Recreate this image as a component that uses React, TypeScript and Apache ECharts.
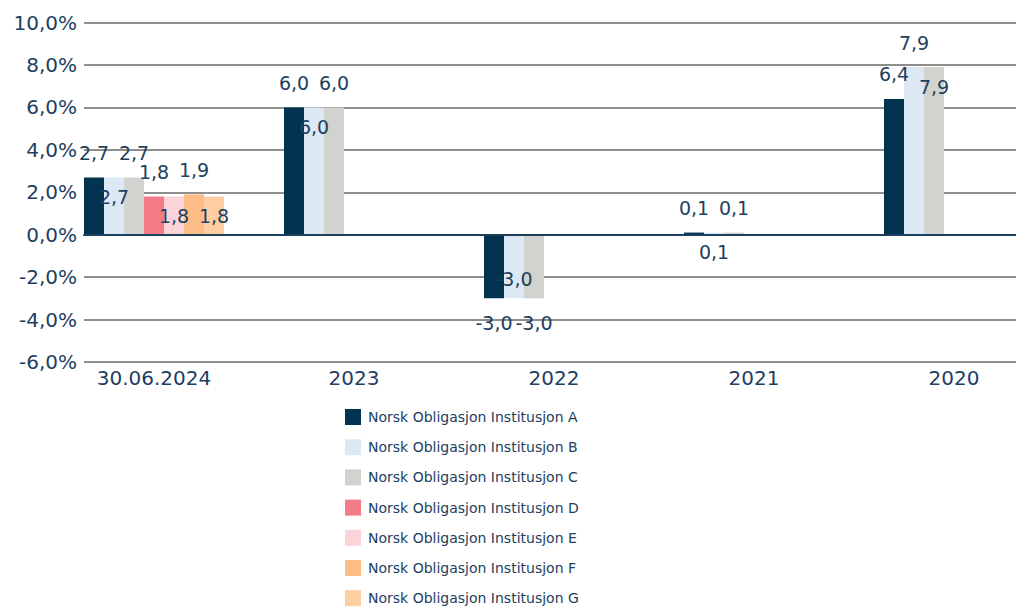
import React, { useEffect, useRef } from "react";
import * as echarts from "echarts";

const categories = ["30.06.2024", "2023", "2022", "2021", "2020"];
const seriesNames = [
  "Norsk Obligasjon Institusjon A",
  "Norsk Obligasjon Institusjon B",
  "Norsk Obligasjon Institusjon C",
  "Norsk Obligasjon Institusjon D",
  "Norsk Obligasjon Institusjon E",
  "Norsk Obligasjon Institusjon F",
  "Norsk Obligasjon Institusjon G",
];
const valuesA = [2.7, 6.0, -3.0, 0.1, 6.4];
const valuesB = [2.7, 6.0, -3.0, 0.1, 7.9];
const valuesC = [2.7, 6.0, -3.0, 0.1, 7.9];
const valuesD = [1.8, null, null, null, null];
const valuesE = [1.8, null, null, null, null];
const valuesF = [1.9, null, null, null, null];
const valuesG = [1.8, null, null, null, null];
const yTicks = [-6, -4, -2, 0, 2, 4, 6, 8, 10];

const colors = ["#02344f", "#dce9f5", "#d2d2ce", "#f47c89", "#fbd3d9", "#fdbd86", "#fecda2"];
const TEXT = "#1d405f";
const FONT = "DejaVu Sans";

// which points have their label drawn inside the bar (index per series)
const insideLabels: Record<number, number[]> = {
  1: [0, 1, 2, 3],
  2: [4],
  4: [0],
  6: [0],
};

const fmt = (v: number) => v.toFixed(1).replace(".", ",");

export default function App() {
  const ref = useRef<HTMLDivElement>(null);
  useEffect(() => {
    document.body.style.margin = "0";
    document.body.style.overflow = "hidden";
    const chart = echarts.init(ref.current!, undefined, { renderer: "svg" });
    const all = [valuesA, valuesB, valuesC, valuesD, valuesE, valuesF, valuesG];
    const series = all.map((vals, si) => ({
      type: "bar",
      name: seriesNames[si],
      xAxisIndex: 0,
      yAxisIndex: 0,
      barWidth: 20,
      barGap: "0%",
      itemStyle: { color: colors[si] },
      data: vals.map((v, ci) => {
        if (v === null) return null;
        const inside = (insideLabels[si] || []).includes(ci);
        const neg = (v as number) < 0;
        const position = inside ? (neg ? "insideBottom" : "insideTop") : neg ? "bottom" : "top";
        return {
          value: v,
          label: { show: true, position, distance: inside ? 10 : 15 },
        };
      }),
      label: {
        show: true,
        color: TEXT,
        fontFamily: FONT,
        fontSize: 19,
        formatter: (p: any) => fmt(p.value),
      },
    }));
    chart.setOption({
      animation: false,
      textStyle: { fontFamily: FONT },
      grid: [
        { left: 54, top: 22.5, right: 0, height: 339.5 },
        { left: 84, top: 22.5, right: 38, height: 339.5 },
      ],
      legend: {
        orient: "vertical",
        left: 345,
        top: 409,
        height: 260,
        padding: 0,
        itemWidth: 16,
        itemHeight: 16,
        itemGap: 14.2,
        icon: "rect",
        data: seriesNames,
        textStyle: { color: TEXT, fontSize: 14, fontFamily: FONT, padding: [0, 0, 0, 2] },
      },
      xAxis: [
        {
          type: "category",
          gridIndex: 0,
          data: categories,
          axisLine: { show: false },
          axisTick: { show: false },
          axisLabel: { color: TEXT, fontSize: 20, fontFamily: FONT, margin: 6 },
        },
        {
          type: "value",
          gridIndex: 1,
          min: 0,
          max: 1,
          z: 5,
          axisLine: { show: true, onZero: true, lineStyle: { color: "#1d405f", width: 2 } },
          axisTick: { show: false },
          axisLabel: { show: false },
          splitLine: { show: false },
        },
      ],
      yAxis: [
        { type: "value", gridIndex: 0, min: -6, max: 10, interval: 2, show: false },
        {
          type: "value",
          gridIndex: 1,
          min: yTicks[0],
          max: yTicks[yTicks.length - 1],
          interval: 2,
          axisLine: { show: false },
          axisTick: { show: false },
          axisLabel: {
            color: TEXT,
            fontSize: 20,
            fontFamily: FONT,
            margin: 7,
            formatter: (v: number) => fmt(v) + "%",
          },
          splitLine: { lineStyle: { color: "#8e8e8e", width: 2 } },
        },
      ],
      series,
    });
    return () => chart.dispose();
  }, []);
  return <div ref={ref} style={{ width: 1054, height: 607 }} />;
}
